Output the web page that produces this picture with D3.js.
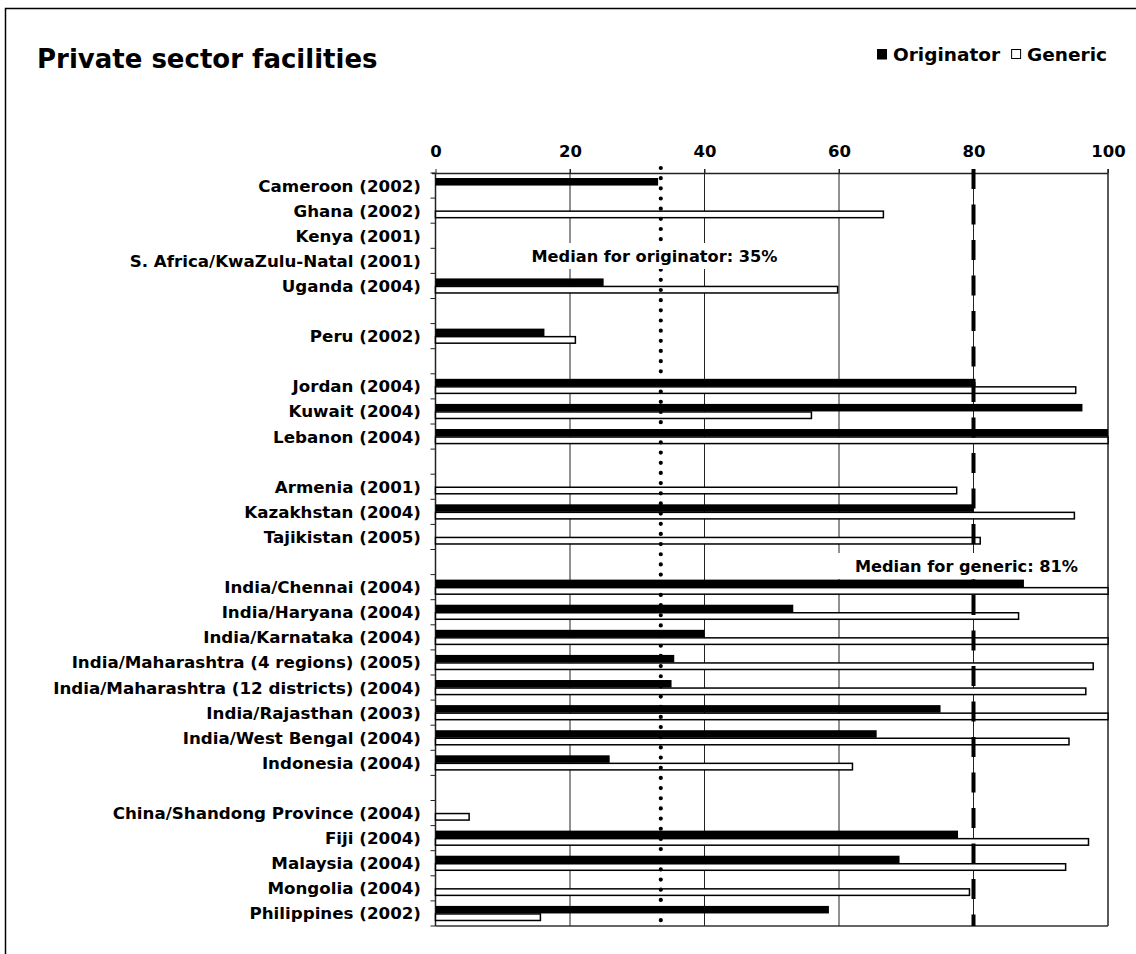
<!DOCTYPE html>
<html>
<head>
<meta charset="utf-8">
<script src="https://cdn.jsdelivr.net/npm/d3@7/dist/d3.min.js"></script>
<style>
  html, body { margin: 0; padding: 0; background: #fff; }
  svg { display: block; }
  text { font-family: "DejaVu Sans", Verdana, sans-serif; font-weight: bold; fill: #000; }
</style>
</head>
<body>
<svg id="chart" width="1136" height="954"></svg>
<script>
const categories = [
  "Cameroon (2002)", "Ghana (2002)", "Kenya (2001)", "S. Africa/KwaZulu-Natal (2001)", "Uganda (2004)",
  "",
  "Peru (2002)",
  "",
  "Jordan (2004)", "Kuwait (2004)", "Lebanon (2004)",
  "",
  "Armenia (2001)", "Kazakhstan (2004)", "Tajikistan (2005)",
  "",
  "India/Chennai (2004)", "India/Haryana (2004)", "India/Karnataka (2004)",
  "India/Maharashtra (4 regions) (2005)", "India/Maharashtra (12 districts) (2004)",
  "India/Rajasthan (2003)", "India/West Bengal (2004)", "Indonesia (2004)",
  "",
  "China/Shandong Province (2004)", "Fiji (2004)", "Malaysia (2004)", "Mongolia (2004)", "Philippines (2002)"
];
const originator = [
  33.1, null, null, null, 25.0,
  null,
  16.2,
  null,
  80.3, 96.2, 100,
  null,
  null, 80.0, null,
  null,
  87.5, 53.2, 40.0, 35.5, 35.1, 75.1, 65.6, 25.9,
  null,
  null, 77.7, 69.0, null, 58.5
];
const generic = [
  null, 66.6, null, null, 59.8,
  null,
  20.8,
  null,
  95.2, 55.9, 100,
  null,
  77.5, 95.0, 81.0,
  null,
  100, 86.7, 100, 97.8, 96.7, 100, 94.2, 62.0,
  null,
  5.0, 97.1, 93.7, 79.4, 15.6
];
const xTicks = [0, 20, 40, 60, 80, 100];
const seriesNames = ["Originator", "Generic"];
const medianOriginatorLine = 33.5;
const medianGenericLine = 80;
const medianLabels = ["Median for originator: 35%", "Median for generic: 81%"];
const title = "Private sector facilities";

const svg = d3.select("#chart");

// outer frame (left and top edges visible)
svg.append("path").attr("d", "M5.5,960 V8.5 H1140").attr("fill", "none").attr("stroke", "#000").attr("stroke-width", 1.5);

const x = d3.scaleLinear().domain([0, 100]).range([435.5, 1108]);
const y = d3.scaleBand().domain(d3.range(categories.length)).range([173, 926]);
const bw = y.bandwidth();

// title
svg.append("text").attr("x", 37).attr("y", 68).attr("font-size", 26).text(title);

// legend (laid out right to left, ending at the plot's right edge)
const lg = svg.append("g");
const lgFont = 18.5;
const tGen = lg.append("text").attr("y", 61).attr("font-size", lgFont).attr("text-anchor", "end").attr("x", 1107).text(seriesNames[1]);
const wGen = tGen.node().getComputedTextLength();
const sq2x = 1107 - wGen - 6 - 10;
lg.append("rect").attr("x", sq2x + 0.5).attr("y", 49.5).attr("width", 9).attr("height", 9).attr("fill", "#fff").attr("stroke", "#000").attr("stroke-width", 1);
const tOrig = lg.append("text").attr("y", 61).attr("font-size", lgFont).attr("text-anchor", "end").attr("x", sq2x - 11).text(seriesNames[0]);
const wOrig = tOrig.node().getComputedTextLength();
lg.append("rect").attr("x", sq2x - 11 - wOrig - 6 - 10).attr("y", 49).attr("width", 10).attr("height", 10.5).attr("fill", "#000");

// gridlines
svg.append("g").selectAll("line").data(xTicks.filter(d => d > 0)).join("line")
  .attr("x1", d => x(d)).attr("x2", d => x(d))
  .attr("y1", 169).attr("y2", 926)
  .attr("stroke", "#222").attr("stroke-width", d => d === 100 ? 1.5 : 1);

// top axis
const xAxis = d3.axisTop(x).tickValues(xTicks).tickSize(4).tickPadding(10).tickFormat(d3.format("d"));
const gx = svg.append("g").attr("transform", "translate(0,173)").call(xAxis);
gx.select(".domain").attr("stroke", "#222").attr("stroke-width", 1.5).attr("d", `M432,0.5H${x(100)}`);
gx.selectAll(".tick line").attr("stroke", "#222");
gx.selectAll(".tick text").attr("font-size", 16.5).attr("font-family", '"DejaVu Sans", Verdana, sans-serif').attr("font-weight", "bold").attr("dy", "-0.1em");

// bottom border
svg.append("line").attr("x1", x(0)).attr("x2", x(100)).attr("y1", 926).attr("y2", 926).attr("stroke", "#333").attr("stroke-width", 1.5);

// left axis with ticks at slot boundaries
const bounds = d3.range(categories.length + 1).map(i => i < categories.length ? y(i) : y.range()[1]);
svg.append("line").attr("x1", x(0)).attr("x2", x(0)).attr("y1", 173).attr("y2", 926).attr("stroke", "#222").attr("stroke-width", 1.5);
svg.append("g").selectAll("line").data(bounds).join("line")
  .attr("x1", x(0) - 5).attr("x2", x(0)).attr("y1", d => d).attr("y2", d => d)
  .attr("stroke", "#222").attr("stroke-width", 1);

// category labels
svg.append("g").selectAll("text").data(categories).join("text")
  .attr("x", 421).attr("y", (d, i) => y(i) + bw / 2 + 6)
  .attr("text-anchor", "end").attr("font-size", 16.7).text(d => d);

// bars
const barH = bw * 0.3;
svg.append("g").selectAll("rect").data(originator.map((v, i) => ({ v, i })).filter(d => d.v != null)).join("rect")
  .attr("x", x(0)).attr("y", d => y(d.i) + bw * 0.2)
  .attr("width", d => x(d.v) - x(0)).attr("height", barH)
  .attr("fill", "#000");
svg.append("g").selectAll("rect").data(generic.map((v, i) => ({ v, i })).filter(d => d.v != null)).join("rect")
  .attr("x", x(0)).attr("y", d => y(d.i) + bw * 0.5 + 0.5)
  .attr("width", d => x(d.v) - x(0)).attr("height", barH - 1)
  .attr("fill", "#fff").attr("stroke", "#000").attr("stroke-width", 1.5);

// median lines
svg.append("line").attr("x1", x(medianOriginatorLine)).attr("x2", x(medianOriginatorLine))
  .attr("y1", 168).attr("y2", 921)
  .attr("stroke", "#000").attr("stroke-width", 4.2).attr("stroke-linecap", "round")
  .attr("stroke-dasharray", "0 10.165");
svg.append("line").attr("x1", x(medianGenericLine)).attr("x2", x(medianGenericLine))
  .attr("y1", 169).attr("y2", 926)
  .attr("stroke", "#000").attr("stroke-width", 4)
  .attr("stroke-dasharray", "20 15.5");

// median labels with white boxes
function medianLabel(txt, cx, cy, boxX0, boxX1) {
  svg.append("rect").attr("x", boxX0).attr("y", cy - 13).attr("width", boxX1 - boxX0).attr("height", 26).attr("fill", "#fff");
  svg.append("text").attr("x", cx).attr("y", cy + 6).attr("text-anchor", "middle").attr("font-size", 16.2).text(txt);
}
medianLabel(medianLabels[0], 654.5, 256, 525, 785);
medianLabel(medianLabels[1], 966.5, 566, 835, 1090);
</script>
</body>
</html>
